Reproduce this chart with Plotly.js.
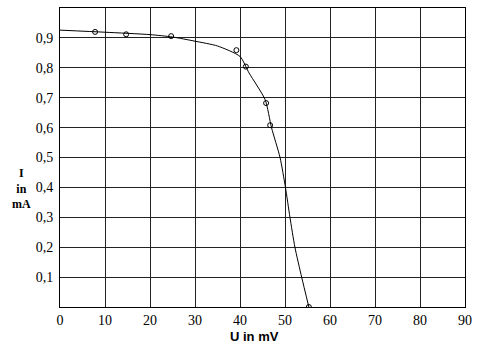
<!DOCTYPE html>
<html><head><meta charset="utf-8">
<script src="https://cdn.plot.ly/plotly-3.0.1.min.js"></script>
<style>body{margin:0;background:#fff}#c{width:484px;height:353px}</style>
</head><body><div id="c"></div>
<script>
// measured points (U in mV, I in mA)
const pointsU = [7.8, 14.7, 24.7, 39.2, 41.3, 45.8, 46.7, 55.3];
const pointsI = [0.920, 0.912, 0.906, 0.859, 0.804, 0.682, 0.608, 0.0];
// fitted curve
const curveU = [0, 10, 20, 25, 30, 35, 40, 42, 45.6, 47.0, 48.9, 50.1, 51.1, 52.2, 53.7, 55.3];
const curveI = [0.926, 0.919, 0.911, 0.903, 0.889, 0.873, 0.838, 0.783, 0.693, 0.6, 0.5, 0.4, 0.3, 0.2, 0.1, 0.0];
const xTicks = [0,10,20,30,40,50,60,70,80,90];
const yTicks = [0.1,0.2,0.3,0.4,0.5,0.6,0.7,0.8,0.9];
const yTickText = yTicks.map(v => v.toFixed(1).replace('.', ','));

const serif = 'Times New Roman, Liberation Serif, serif';
const font = {family: serif, color: '#000', size: 14};
const data = [
  {x: curveU, y: curveI, mode: 'lines', line: {color: '#000', width: 1, shape: 'spline', smoothing: 0.6}, hoverinfo: 'skip'},
  {x: pointsU, y: pointsI, mode: 'markers', marker: {symbol: 'circle-open', size: 5, color: '#000', line: {width: 1, color: '#000'}}}
];
const layout = {
  width: 484, height: 353,
  margin: {l: 60, r: 19, t: 8, b: 46},
  paper_bgcolor: '#fff', plot_bgcolor: '#fff',
  showlegend: false,
  font: font,
  xaxis: {range: [0, 90], tickvals: xTicks, ticktext: xTicks.map(String), showgrid: true, gridcolor: '#222', gridwidth: 1,
          showline: true, linecolor: '#000', linewidth: 1, mirror: true, zeroline: false, ticks: '', ticklabelstandoff: 0},
  yaxis: {range: [0, 1.0], tickvals: yTicks, ticktext: yTickText, showgrid: true, gridcolor: '#222', gridwidth: 1,
          showline: true, linecolor: '#000', linewidth: 1, mirror: true, zeroline: false, ticks: '', ticklabelstandoff: 3},
  annotations: [
    {text: '<b>I<br>in<br>mA</b>', xref: 'paper', yref: 'paper', x: -0.096, y: 0.397, xanchor: 'center', yanchor: 'middle',
     showarrow: false, font: {family: serif, size: 12, color: '#000'}, align: 'center'},
    {text: '<b>U in mV</b>', xref: 'paper', yref: 'paper', x: (254 - 60) / 405, y: -(338 - 308) / 300, xanchor: 'center', yanchor: 'middle',
     showarrow: false, font: {family: 'Liberation Sans', size: 13, color: '#000'}}
  ]
};
Plotly.newPlot('c', data, layout, {staticPlot: true});
</script></body></html>
